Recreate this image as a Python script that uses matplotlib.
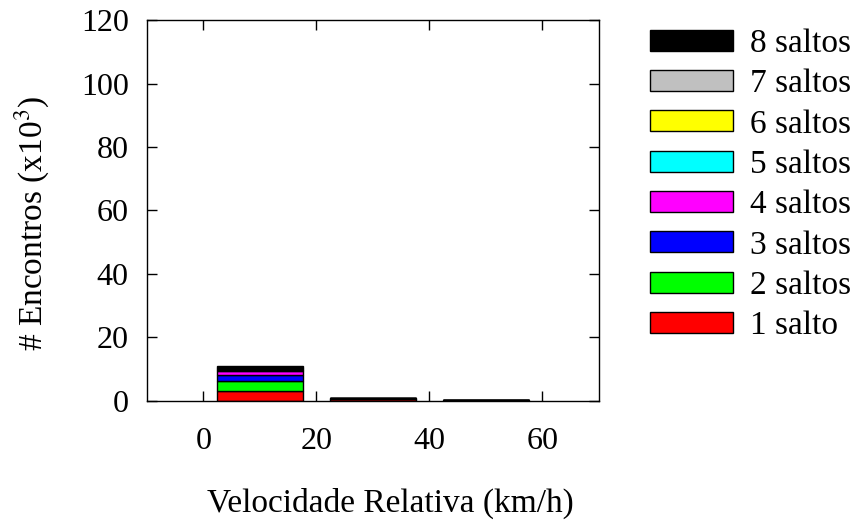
import matplotlib
matplotlib.use("Agg")
import matplotlib.pyplot as plt
import numpy as np

plt.rcParams["font.family"] = ["Liberation Serif", "DejaVu Serif"]
plt.rcParams["mathtext.fontset"] = "stix"

# velocity bins (centres, km/h) and encounters per hop count (x10^3)
centres = [10, 30, 50]
labels = ["1 salto", "2 saltos", "3 saltos", "4 saltos",
          "5 saltos", "6 saltos", "7 saltos", "8 saltos"]
colors = ["#ff0000", "#00ff00", "#0000ff", "#ff00ff",
          "#00ffff", "#ffff00", "#c0c0c0", "#000000"]
values = [
    [3.25, 0.60, 0.20],
    [3.15, 0.15, 0.05],
    [1.90, 0.05, 0.02],
    [1.05, 0.03, 0.01],
    [0.40, 0.01, 0.00],
    [0.30, 0.01, 0.00],
    [0.20, 0.00, 0.00],
    [0.90, 0.00, 0.00],
]
yticks = [0, 20, 40, 60, 80, 100, 120]
xticks = [0, 20, 40, 60]

fig = plt.figure(figsize=(8.54, 5.2), dpi=100)
ax = fig.add_axes([0.172, 0.229, 0.529, 0.7325])

bottom = np.zeros(len(centres))
handles = []
for lab, col, vals in zip(labels, colors, values):
    h = ax.bar(centres, vals, width=15.2, bottom=bottom, color=col,
               edgecolor="black", linewidth=1.0, label=lab)
    handles.append(h)
    bottom += np.array(vals)

ax.set_xlim(-10, 70)
ax.set_ylim(0, 120)
ax.set_xticks(xticks)
ax.set_yticks(yticks)
ax.tick_params(direction="in", top=True, right=True, length=7, width=1,
               labelsize=23)
ax.tick_params(axis="x", pad=19)
ax.tick_params(axis="y", pad=13)
for sp in ax.spines.values():
    sp.set_linewidth(1)
ax.set_xlabel("Velocidade Relativa (km/h)", fontsize=24, labelpad=23)
ax.set_ylabel(r"# Encontros (x10$^3$)", fontsize=24, labelpad=21)
# gnuplot places the axis titles slightly off-centre
ax.xaxis.label.set_x(0.538)
ax.yaxis.label.set_y(0.466)

leg = fig.legend(handles[::-1], labels[::-1], loc="upper left",
                 bbox_to_anchor=(0.7455, 0.971), frameon=False, fontsize=24,
                 handlelength=2.5, handleheight=0.6, labelspacing=0.295,
                 handletextpad=0.5, borderaxespad=0)

fig.savefig("out.png", dpi=100)
